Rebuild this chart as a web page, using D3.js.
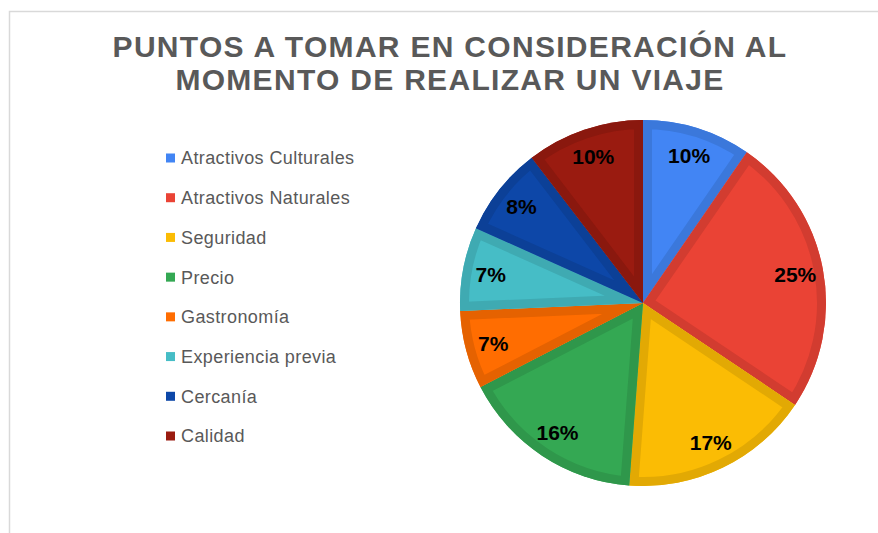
<!DOCTYPE html>
<html>
<head>
<meta charset="utf-8">
<script src="https://cdn.jsdelivr.net/npm/d3@7"></script>
<style>
  body { margin: 0; background: #fff; }
  svg { display: block; font-family: "Liberation Sans", Arial, sans-serif; }
</style>
</head>
<body>
<div id="chart"></div>
<script>
const titleLines = ["PUNTOS A TOMAR EN CONSIDERACIÓN AL", "MOMENTO DE REALIZAR UN VIAJE"];
const categories = ["Atractivos Culturales", "Atractivos Naturales", "Seguridad", "Precio",
    "Gastronomía", "Experiencia previa", "Cercanía", "Calidad"];
const shares = [9.6, 24.8, 16.8, 16.2, 6.9, 7.4, 7.9, 10.4];
const colors = ["#4285f4", "#ea4335", "#fbbc04", "#34a853", "#ff6d01", "#46bdc6", "#0d47a8", "#9a1b10"];

const W = 878, H = 533;
const cx = 643, cy = 303, r = 183;

const svg = d3.select("#chart").append("svg")
    .attr("width", W)
    .attr("height", H);

// chart area border (only top and left visible)
svg.append("rect")
    .attr("x", 9.5).attr("y", 11.5)
    .attr("width", W).attr("height", H)
    .attr("fill", "none")
    .attr("stroke", "#d9d9d9")
    .attr("stroke-width", 1.5);

// title
svg.append("text")
    .attr("x", 450)
    .attr("y", 57)
    .attr("text-anchor", "middle")
    .attr("font-size", 30)
    .attr("font-weight", "bold")
    .attr("letter-spacing", 1.3)
    .attr("fill", "#595959")
    .selectAll("tspan")
    .data(titleLines)
    .join("tspan")
    .attr("x", 450)
    .attr("dy", (d, i) => i === 0 ? 0 : 33)
    .text(d => d);

const color = d3.scaleOrdinal().domain(categories).range(colors);
const data = categories.map((c, i) => ({ name: c, value: shares[i] }));
const total = d3.sum(shares);

const pie = d3.pie().value(d => d.value).sort(null);
const arc = d3.arc().innerRadius(0).outerRadius(r);
const labelArc = d3.arc().innerRadius(155).outerRadius(155);

const g = svg.append("g").attr("transform", `translate(${cx},${cy})`);
const arcs = pie(data);

const defs = svg.append("defs");
defs.selectAll("clipPath")
    .data(arcs)
    .join("clipPath")
    .attr("id", (d, i) => "clip" + i)
    .append("path")
    .attr("d", arc);

const slices = g.selectAll("g.slice")
    .data(arcs)
    .join("g")
    .attr("class", "slice");

slices.append("path")
    .attr("d", arc)
    .attr("fill", d => color(d.data.name));

// darker inner border, clipped to each slice
slices.append("path")
    .attr("d", arc)
    .attr("fill", "none")
    .attr("stroke", d => d3.color(color(d.data.name)).darker(0.3))
    .attr("stroke-width", 18)
    .attr("stroke-linejoin", "miter")
    .attr("clip-path", (d, i) => `url(#clip${i})`);

g.selectAll("text.pct")
    .data(arcs)
    .join("text")
    .attr("class", "pct")
    .attr("transform", d => `translate(${labelArc.centroid(d)})`)
    .attr("text-anchor", "middle")
    .attr("dy", "0.36em")
    .attr("font-size", 21)
    .attr("font-weight", "bold")
    .attr("fill", "#000")
    .text(d => Math.round(d.data.value / total * 100) + "%");

// legend
const legendY = d3.scalePoint().domain(categories).range([158, 436]);
const legend = svg.selectAll("g.legend")
    .data(categories)
    .join("g")
    .attr("class", "legend")
    .attr("transform", d => `translate(166,${legendY(d)})`);

legend.append("rect")
    .attr("x", 0).attr("y", -4.5)
    .attr("width", 9).attr("height", 9)
    .attr("fill", d => color(d));

legend.append("text")
    .attr("x", 15)
    .attr("dy", "0.36em")
    .attr("font-size", 18)
    .attr("letter-spacing", 0.4)
    .attr("fill", "#595959")
    .text(d => d);
</script>
</body>
</html>
